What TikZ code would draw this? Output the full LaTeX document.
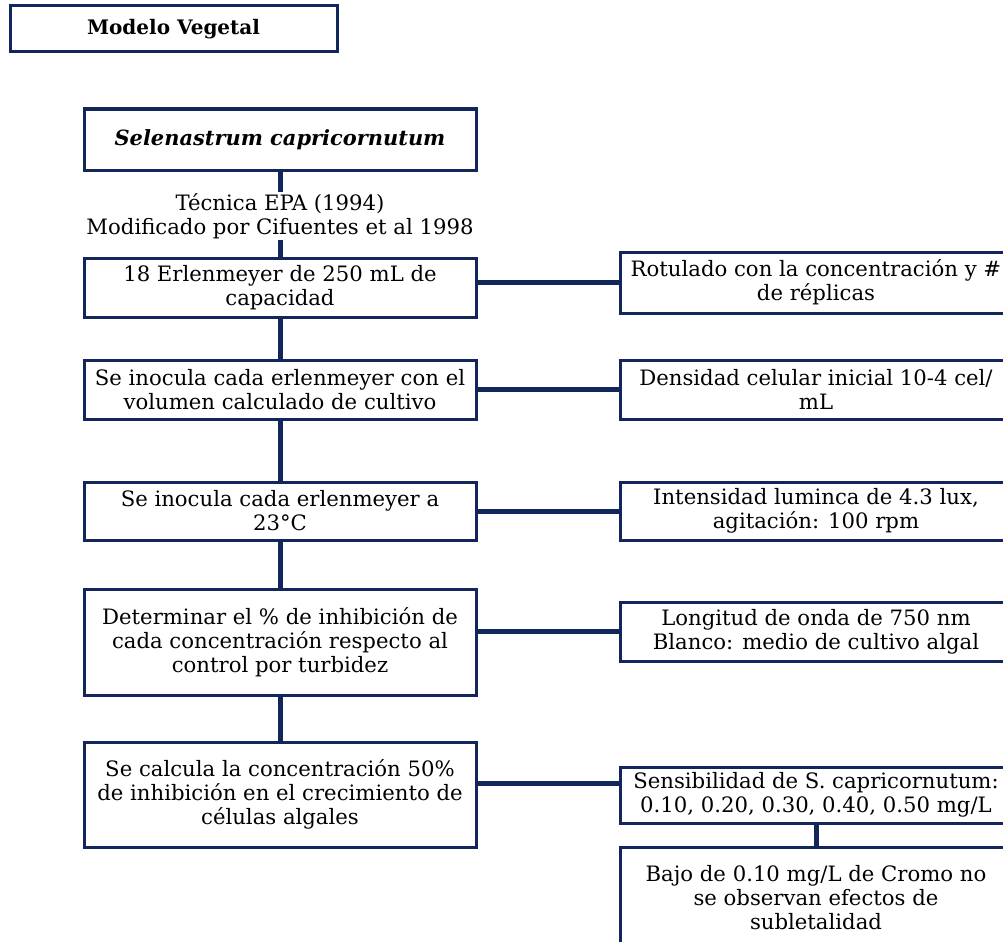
\documentclass[tikz,border=0pt]{standalone}
\usepackage{fontspec}
\setmainfont{DejaVu Serif}
\definecolor{navy}{RGB}{18,38,92}
\tikzset{
  box/.style={draw=navy, line width=2.25pt, rectangle, align=center,
    inner sep=0pt, font=\fontsize{15.9pt}{18pt}\selectfont},
  link/.style={draw=navy, line width=3.75pt},
  note/.style={align=center, inner sep=1pt, font=\fontsize{15.9pt}{18pt}\selectfont}
}
\begin{document}
\begin{tikzpicture}[x=0.75pt,y=-0.75pt]
\useasboundingbox (0,0) rectangle (1003,942);
\clip (0,0) rectangle (1003,942);
\fill[white] (0,0) rectangle (1003,942);

% title
\node[box, minimum width=327*0.75pt, minimum height=46*0.75pt,
  font=\fontsize{15pt}{18pt}\selectfont\bfseries] (title) at (173.5,29) {Modelo Vegetal};

% main column
\node[box, minimum width=392*0.75pt, minimum height=61*0.75pt,
  font=\fontsize{15.7pt}{18pt}\selectfont\bfseries\itshape] (sel) at (280,139.5) {Selenastrum capricornutum};
\node[note] (tec) at (280,216) {Técnica EPA (1994)\\Modificado por Cifuentes et al 1998};
\node[box, minimum width=392*0.75pt, minimum height=59*0.75pt] (b1) at (280,287.5)
  {18 Erlenmeyer de 250 mL de\\capacidad};
\node[box, minimum width=392*0.75pt, minimum height=59*0.75pt] (b2) at (280,389.5)
  {Se inocula cada erlenmeyer con el\\volumen calculado de cultivo};
\node[box, minimum width=392*0.75pt, minimum height=58*0.75pt] (b3) at (280,511)
  {Se inocula cada erlenmeyer a\\23°C};
\node[box, minimum width=392*0.75pt, minimum height=106*0.75pt] (b4) at (280,642)
  {Determinar el \% de inhibición de\\cada concentración respecto al\\control por turbidez};
\node[box, minimum width=392*0.75pt, minimum height=105*0.75pt] (b5) at (280,794.5)
  {Se calcula la concentración 50\%\\de inhibición en el crecimiento de\\células algales};

% side column
\node[box, minimum width=392*0.75pt, minimum height=61*0.75pt] (r1) at (816,282.5)
  {Rotulado con la concentración y \#\\de réplicas};
\node[box, minimum width=392*0.75pt, minimum height=59*0.75pt] (r2) at (816,389.5)
  {Densidad celular inicial 10-4 cel/\\mL};
\node[box, minimum width=392*0.75pt, minimum height=58*0.75pt] (r3) at (816,511)
  {Intensidad luminca de 4.3 lux,\\agitación: 100 rpm};
\node[box, minimum width=392*0.75pt, minimum height=59*0.75pt] (r4) at (816,631.5)
  {Longitud de onda de 750 nm\\Blanco: medio de cultivo algal};
\node[box, minimum width=392*0.75pt, minimum height=56*0.75pt] (r5) at (816,795)
  {Sensibilidad de S. capricornutum:\\0.10, 0.20, 0.30, 0.40, 0.50 mg/L};
\node[box, minimum width=392*0.75pt, minimum height=102*0.75pt] (r6) at (816,898)
  {Bajo de 0.10 mg/L de Cromo no\\se observan efectos de\\subletalidad};

% spine
\draw[link] (sel.south) -- (tec.north);
\draw[link] (tec.south) -- (b1.north);
\draw[link] (b1.south) -- (b2.north);
\draw[link] (b2.south) -- (b3.north);
\draw[link] (b3.south) -- (b4.north);
\draw[link] (b4.south) -- (b5.north);

% branches
\coordinate (j5) at (548,783);
\draw[link] (b1.east |- r1.west) -- (r1.west);
\draw[link] (b2.east) -- (r2.west);
\draw[link] (b3.east) -- (r3.west);
\draw[link] (b4.east |- r4.west) -- (r4.west);
\draw[link] (b5.east |- j5) -- (r5.west |- j5);
\draw[link] (r5.south) -- (r6.north);
\end{tikzpicture}
\end{document}
